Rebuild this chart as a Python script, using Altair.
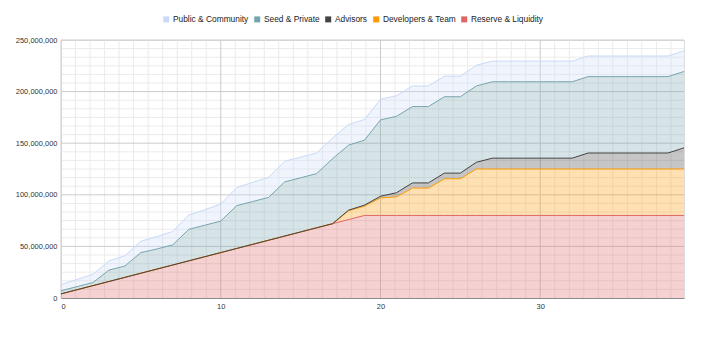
import altair as alt
import pandas as pd

# Month index of the vesting schedule
months = list(range(40))

# Tokens unlocked per allocation (millions), cumulative per month
reserve = [4, 8, 12, 16, 20, 24, 28, 32, 36, 40, 44, 48, 52, 56, 60, 64, 68, 72, 76, 80,
           80, 80, 80, 80, 80, 80, 80, 80, 80, 80, 80, 80, 80, 80, 80, 80, 80, 80, 80, 80]
developers = [0, 0, 0, 0, 0, 0, 0, 0, 0, 0, 0, 0, 0, 0, 0, 0, 0, 0,
              8.5, 9, 17, 18, 26.5, 26.5, 35.5, 35.5, 45, 45,
              45, 45, 45, 45, 45, 45, 45, 45, 45, 45, 45, 45]
advisors = [0, 0, 0, 0, 0, 0, 0, 0, 0, 0, 0, 0, 0, 0, 0, 0, 0, 0,
            0.6, 1, 1.6, 4, 5, 5, 5.5, 5.5, 6.5,
            10.5, 10.5, 10.5, 10.5, 10.5, 10.5,
            15.5, 15.5, 15.5, 15.5, 15.5, 15.5, 20.5]
seed = [3, 3, 3, 11, 11, 20, 19.5, 19.5, 30.5, 30.5, 30.5, 41.5, 41.5, 41.5,
        52.5, 52.5, 52.5, 63, 63, 63,
        74, 74, 74, 74, 74, 74, 74, 74, 74, 74, 74, 74, 74, 74, 74, 74, 74, 74, 74, 74]
public = [6, 7, 8, 9, 10, 11, 12, 13, 14, 15, 16.5, 17.5, 18.5, 19.5,
          20, 20, 20, 20, 20, 20, 20, 20, 20, 20, 20, 20, 20, 20, 20, 20,
          20, 20, 20, 20, 20, 20, 20, 20, 20, 20]

legend_order = ["Public & Community", "Seed & Private", "Advisors",
                "Developers & Team", "Reserve & Liquidity"]
palette = ["#c9daf8", "#76a5af", "#434343", "#ff9900", "#e06666"]

# bottom of the stack first
stacked = [("Reserve & Liquidity", reserve), ("Developers & Team", developers),
           ("Advisors", advisors), ("Seed & Private", seed),
           ("Public & Community", public)]

rows = []
for rank, (name, values) in enumerate(stacked):
    for m, v in zip(months, values):
        rows.append({"month": m, "allocation": name, "tokens": v * 1_000_000, "rank": rank})
df = pd.DataFrame(rows)

# Gridlines: majors every 10 months / 50M, with minor subdivisions
x_major = [0, 10, 20, 30]
x_minor = [d + k * 10 / 11 for d in x_major for k in range(1, 11) if d + k * 10 / 11 <= 39]
y_major = [0, 50e6, 100e6, 150e6, 200e6, 250e6]
y_minor = [m + k * 50e6 / 6 for m in y_major[:-1] for k in range(1, 6)]

FONT = "Liberation Sans"
x_scale = alt.Scale(domain=[0, 39], nice=False, zero=False)
y_scale = alt.Scale(domain=[0, 250e6], nice=False)

x_axis = alt.Axis(values=x_major, grid=False, ticks=False, domain=True,
                  domainColor="#8a8a8a", domainWidth=1, labelPadding=4,
                  labelFont=FONT, labelFontSize=7.5, labelColor="#333",
                  labelAngle=0, title=None)
y_axis = alt.Axis(values=y_major, format=",d", grid=False, ticks=False,
                  domain=False, labelPadding=4, labelFont=FONT,
                  labelFontSize=7.5, labelColor="#333", title=None)


def vgrid(values, color):
    return alt.Chart(pd.DataFrame({"v": values})).mark_rule(color=color, strokeWidth=1).encode(
        x=alt.X("v:Q", scale=x_scale, axis=x_axis, title=None))


def hgrid(values, color):
    return alt.Chart(pd.DataFrame({"v": values})).mark_rule(color=color, strokeWidth=1).encode(
        y=alt.Y("v:Q", scale=y_scale, axis=y_axis, title=None))


areas = alt.Chart(df).mark_area(
    fillOpacity=0.3,
    line=alt.OverlayMarkDef(strokeWidth=1),
).encode(
    x=alt.X("month:Q", scale=x_scale, title=None, axis=x_axis),
    y=alt.Y("tokens:Q", stack="zero", scale=y_scale, title=None, axis=y_axis),
    color=alt.Color("allocation:N",
                    scale=alt.Scale(domain=legend_order, range=palette),
                    legend=alt.Legend(title=None, orient="none", direction="horizontal",
                                      legendX=101, legendY=-25,
                                      symbolType="square", symbolSize=36,
                                      symbolOpacity=1, symbolStrokeWidth=0,
                                      labelFont=FONT, labelFontSize=8.4,
                                      labelColor="#222", labelOffset=2.5,
                                      columnPadding=4)),
    order=alt.Order("rank:Q", sort="ascending"),
)

chart = alt.layer(
    vgrid(x_minor, "#ebebeb"),
    hgrid(y_minor, "#ebebeb"),
    vgrid(x_major, "#cccccc"),
    hgrid(y_major[1:], "#cccccc"),
    areas,
).properties(
    width=623,
    height=258,
    autosize=alt.AutoSizeParams(type="none"),
    padding={"left": 61, "top": 40, "right": 18, "bottom": 55},
).configure_view(stroke=None).configure(background="white")

chart.save("out.html", embed_options={"renderer": "svg", "actions": False})
